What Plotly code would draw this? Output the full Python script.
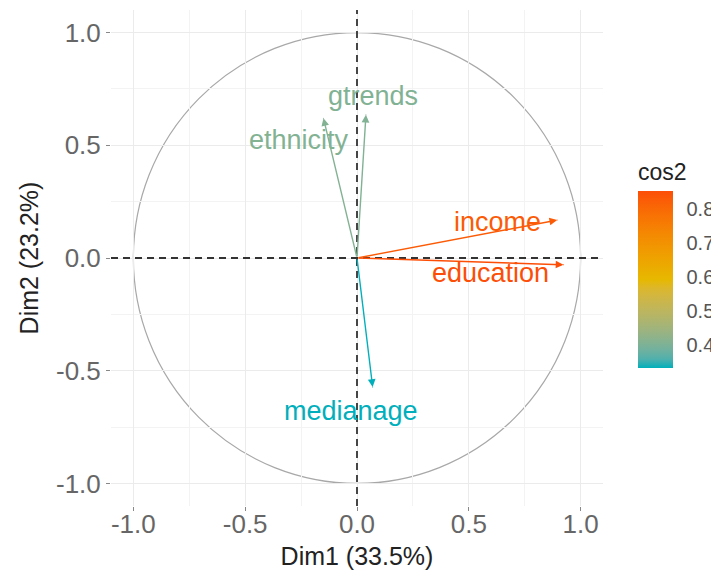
import plotly.graph_objects as go
import numpy as np

# ---- data ----
variables = ["education", "income", "gtrends", "ethnicity", "medianage"]
dim1 = [0.923, 0.895, 0.040, -0.150, 0.070]
dim2 = [-0.030, 0.168, 0.635, 0.620, -0.572]
cos2 = [0.853, 0.829, 0.405, 0.407, 0.332]
tick_vals = [-1.0, -0.5, 0.0, 0.5, 1.0]
tick_text = ["-1.0", "-0.5", "0.0", "0.5", "1.0"]
cb_ticks = [0.4, 0.5, 0.6, 0.7, 0.8]

# label offsets in pixels (style)
label_shift = {
    "education": (-73, -8),
    "income": (-60, -2),
    "gtrends": (7, 19),
    "ethnicity": (-24, -22),
    "medianage": (-22, -24),
}

grad = ["#00AFBB", "#E7B800", "#FC4E07"]
cmin, cmax = min(cos2), max(cos2)


# ---- Lab colour interpolation (like ggplot's gradientn) ----
def hex2rgb(h):
    h = h.lstrip("#")
    return np.array([int(h[i:i + 2], 16) for i in (0, 2, 4)], float) / 255.0


def srgb_to_lin(c):
    return np.where(c <= 0.04045, c / 12.92, ((c + 0.055) / 1.055) ** 2.4)


def lin_to_srgb(c):
    c = np.clip(c, 0, 1)
    return np.where(c <= 0.0031308, 12.92 * c, 1.055 * c ** (1 / 2.4) - 0.055)


M = np.array([[0.4124, 0.3576, 0.1805], [0.2126, 0.7152, 0.0722], [0.0193, 0.1192, 0.9505]])
Minv = np.linalg.inv(M)
WHITE = np.array([0.95047, 1.0, 1.08883])


def f_lab(t):
    d = 6 / 29
    return np.where(t > d ** 3, np.cbrt(t), t / (3 * d * d) + 4 / 29)


def finv_lab(t):
    d = 6 / 29
    return np.where(t > d, t ** 3, 3 * d * d * (t - 4 / 29))


def rgb_to_lab(rgb):
    xyz = M @ srgb_to_lin(rgb) / WHITE
    fx, fy, fz = f_lab(xyz)
    return np.array([116 * fy - 16, 500 * (fx - fy), 200 * (fy - fz)])


def lab_to_rgb(lab):
    L, a, b = lab
    fy = (L + 16) / 116
    fx = fy + a / 500
    fz = fy - b / 200
    xyz = finv_lab(np.array([fx, fy, fz])) * WHITE
    return lin_to_srgb(Minv @ xyz)


LABS = [rgb_to_lab(hex2rgb(g)) for g in grad]


def ramp(t):
    t = min(max(t, 0.0), 1.0)
    if t <= 0.5:
        a, b, f = LABS[0], LABS[1], t / 0.5
    else:
        a, b, f = LABS[1], LABS[2], (t - 0.5) / 0.5
    rgb = lab_to_rgb(a + (b - a) * f)
    return "rgb(%d,%d,%d)" % tuple(int(round(v * 255)) for v in rgb)


def col_for(v):
    return ramp((v - cmin) / (cmax - cmin))


colorscale = [[i / 20, ramp(i / 20)] for i in range(21)]

FONT = "Liberation Sans, Arial, sans-serif"

fig = go.Figure()
fig.add_trace(go.Scatter(
    x=dim1, y=dim2, mode="markers", hoverinfo="text", text=variables,
    marker=dict(size=1, color=cos2, colorscale=colorscale, cmin=cmin, cmax=cmax,
                showscale=True,
                colorbar=dict(
                    x=1.051, xanchor="left", y=0.258, yanchor="bottom",
                    len=228, lenmode="pixels", thickness=35, thicknessmode="pixels",
                    outlinewidth=0, ticks="outside", ticklen=10, tickcolor="white",
                    tickvals=cb_ticks, ticktext=["%.1f" % v for v in cb_ticks],
                    tickfont=dict(family=FONT, size=20, color="#555"),
                    title=dict(text="cos2", side="top",
                               font=dict(family=FONT, size=23, color="#222")),
                )),
    showlegend=False,
))

annotations = []
for name, x, y, c in zip(variables, dim1, dim2, cos2):
    col = col_for(c)
    annotations.append(dict(
        x=x, y=y, ax=0, ay=0, xref="x", yref="y", axref="x", ayref="y",
        text="", showarrow=True, arrowhead=2, arrowsize=1.1, arrowwidth=1.4,
        arrowcolor=col, standoff=0, startstandoff=0))
    dx, dy = label_shift[name]
    annotations.append(dict(
        x=x, y=y, xref="x", yref="y", text=name, showarrow=False,
        xshift=dx, yshift=dy,
        font=dict(family=FONT, size=27, color=col)))

shapes = [
    dict(type="circle", xref="x", yref="y", x0=-1, x1=1, y0=-1, y1=1,
         line=dict(color="#A8A8A8", width=1.2), layer="below"),
    dict(type="line", xref="paper", yref="y", x0=0, x1=1, y0=0, y1=0,
         line=dict(color="#333333", width=1.8, dash="7px,5px")),
    dict(type="line", xref="x", yref="paper", x0=0, x1=0, y0=0, y1=1,
         line=dict(color="#333333", width=1.8, dash="7px,5px")),
]

axis_common = dict(
    range=[-1.1, 1.1], tickvals=tick_vals, ticktext=tick_text,
    showgrid=True, gridcolor="#EBEBEB", gridwidth=1.3, zeroline=False,
    showline=False, ticks="outside", ticklen=4, tickcolor="#888",
    tickfont=dict(family=FONT, size=26, color="#666"),
    minor=dict(dtick=0.25, tick0=0, showgrid=True, gridcolor="#F3F3F3",
               gridwidth=0.8, ticks=""),
)

# page body adds an 8px offset, so margins compensate
fig.update_layout(
    width=719, height=579,
    margin=dict(l=103, r=124, t=2, b=81, autoexpand=False),
    paper_bgcolor="white", plot_bgcolor="white",
    xaxis=dict(axis_common, ticklabelstandoff=-9,
               title=dict(text="Dim1 (33.5%)", standoff=9,
                          font=dict(family=FONT, size=25, color="#222"))),
    yaxis=dict(axis_common, title=dict(text="Dim2 (23.2%)", standoff=10,
               font=dict(family=FONT, size=25, color="#222"))),
    shapes=shapes, annotations=annotations,
)

fig.write_html("out.html")
